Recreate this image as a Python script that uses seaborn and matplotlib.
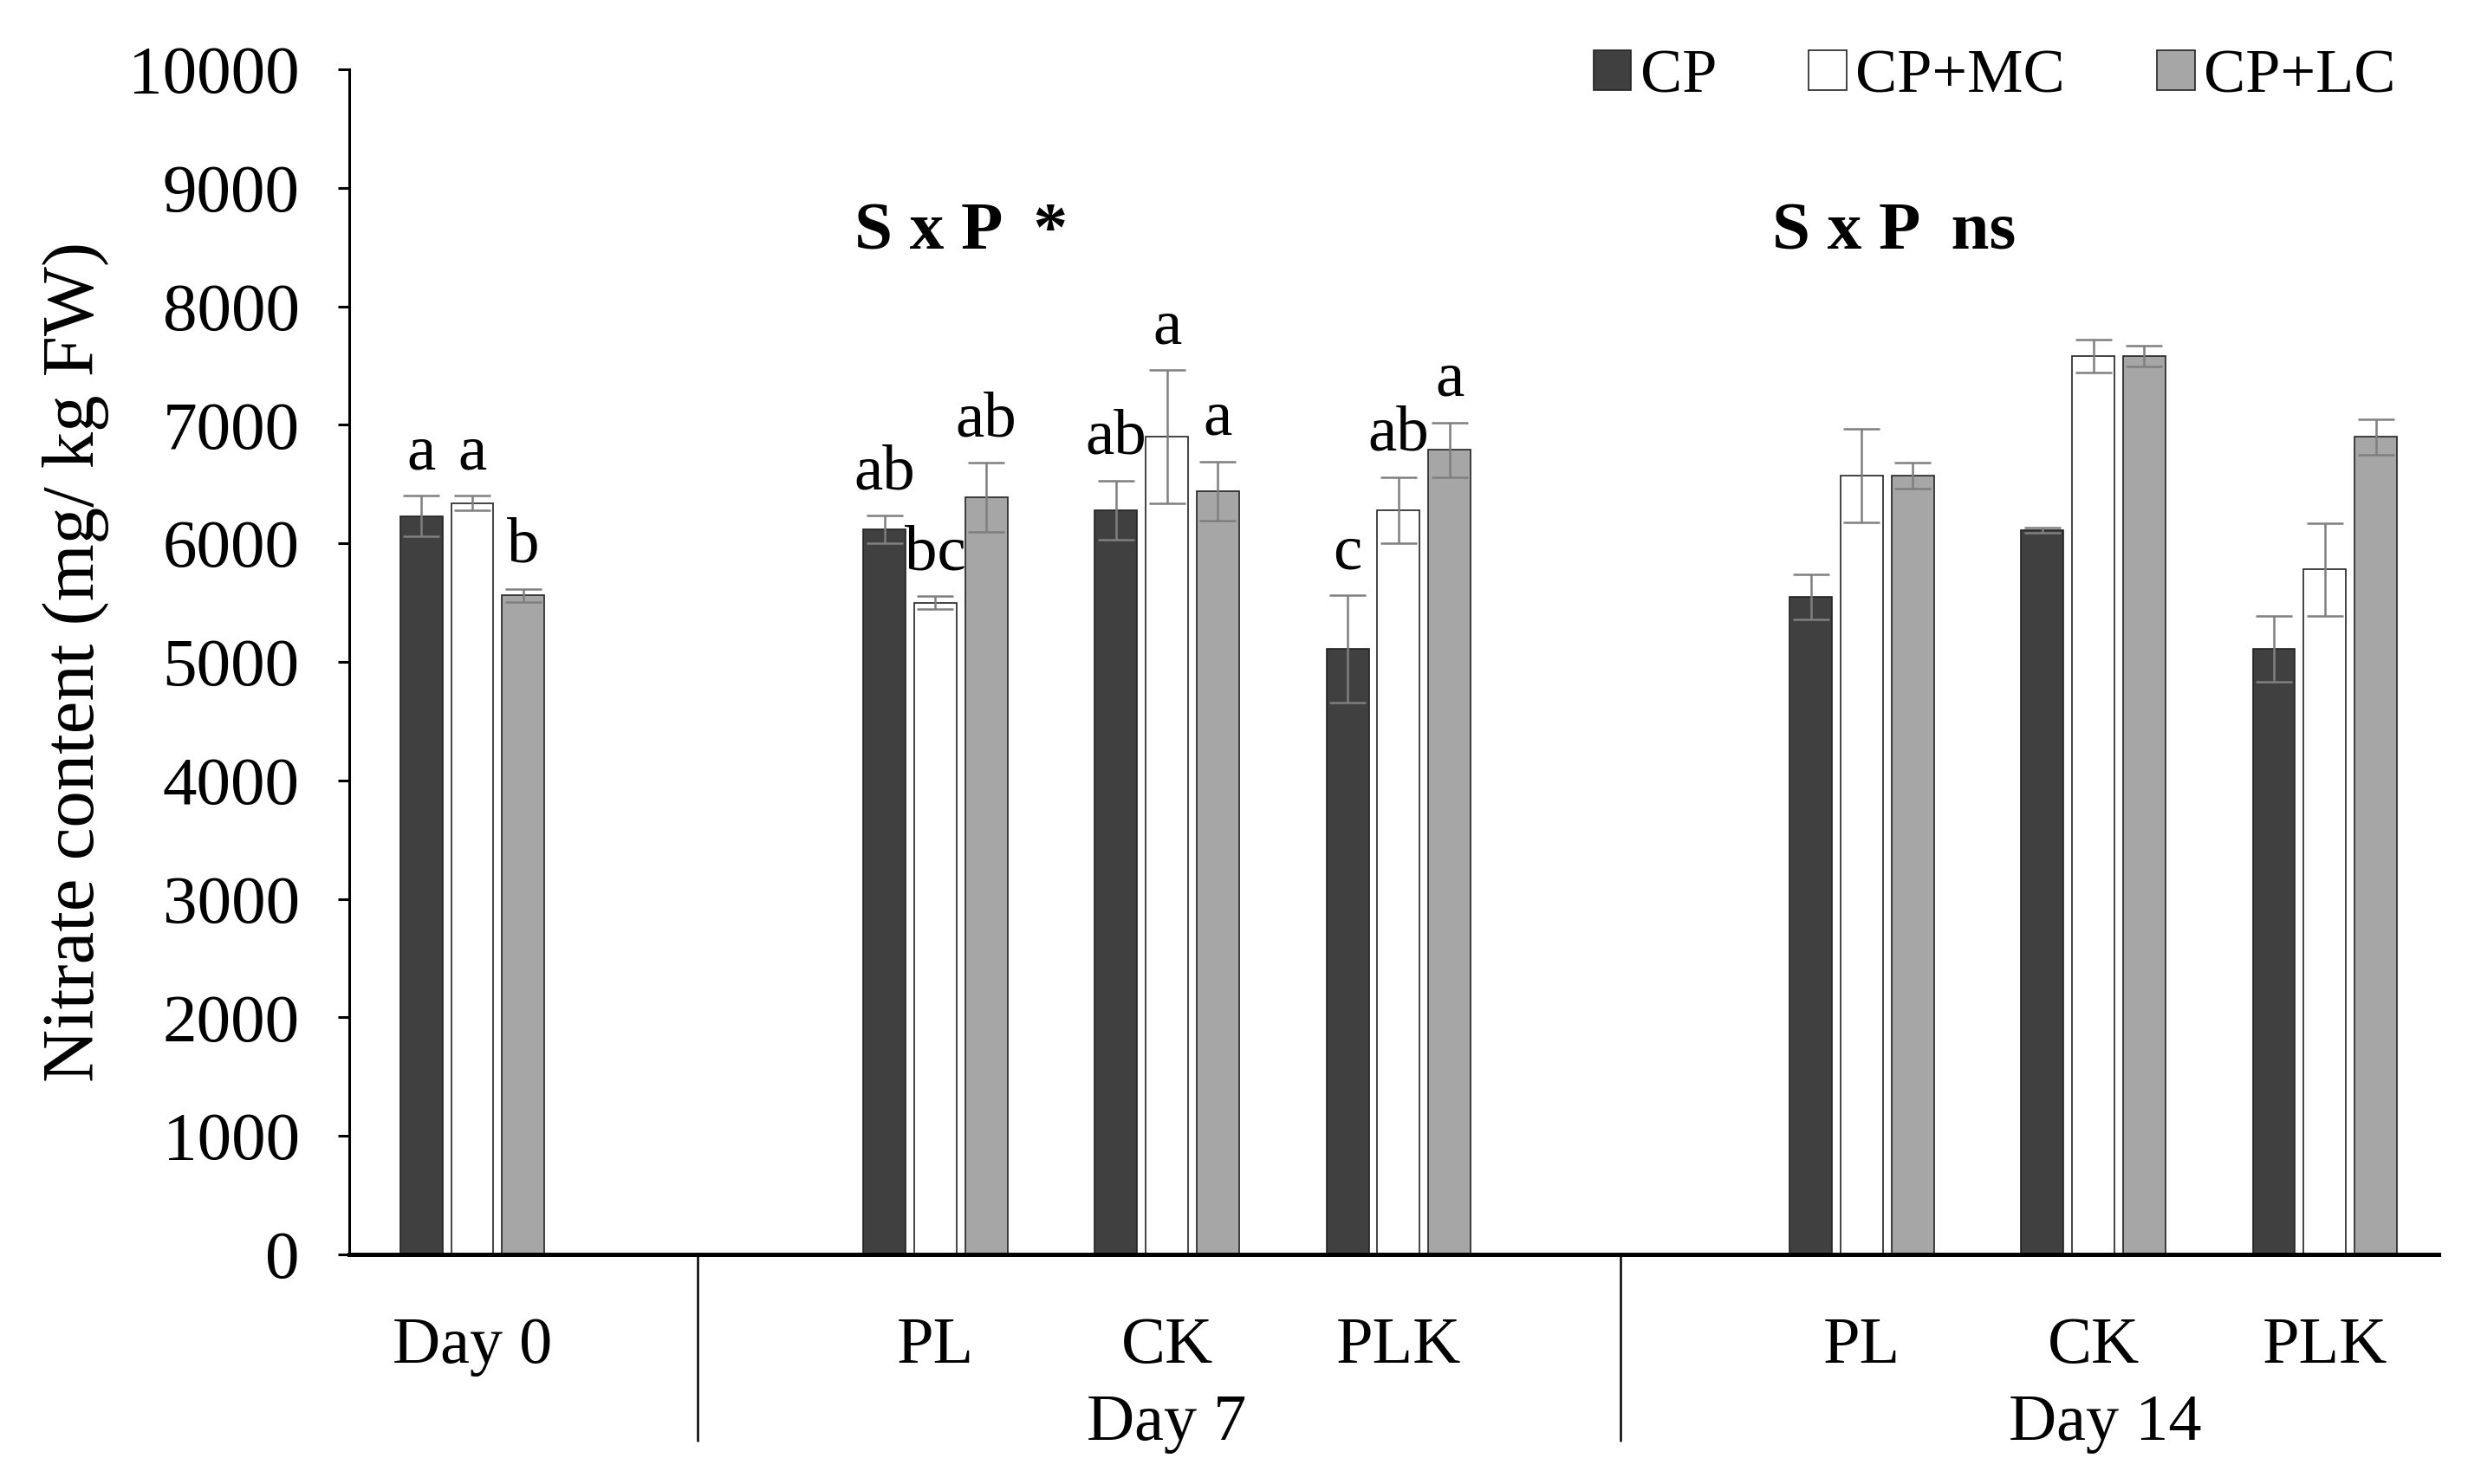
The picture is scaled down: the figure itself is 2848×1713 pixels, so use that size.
import pandas as pd
import matplotlib.pyplot as plt
import matplotlib.transforms as mtransforms
import seaborn as sns

# ---------------- data ----------------
slot_keys = ["D0", "gap1", "D7_PL", "D7_CK", "D7_PLK", "gap2", "D14_PL", "D14_CK", "D14_PLK"]
slot_labels = ["Day 0", "", "PL", "CK", "PLK", "", "PL", "CK", "PLK"]
data_keys = ["D0", "D7_PL", "D7_CK", "D7_PLK", "D14_PL", "D14_CK", "D14_PLK"]
treatments = ["CP", "CP+MC", "CP+LC"]

cp_mean = [6230, 6120, 6280, 5110, 5550, 6110, 5110]
cp_sd = [170, 115, 250, 450, 190, 20, 280]
mc_mean = [6340, 5500, 6900, 6280, 6570, 7580, 5780]
mc_sd = [60, 55, 560, 280, 395, 140, 390]
lc_mean = [5560, 6390, 6440, 6790, 6570, 7580, 6900]
lc_sd = [55, 290, 250, 230, 110, 90, 150]

cp_letters = ["a", "ab", "ab", "c", "", "", ""]
mc_letters = ["a", "bc", "a", "ab", "", "", ""]
lc_letters = ["b", "ab", "a", "a", "", "", ""]

groups = ["Day 7", "Day 14"]
group_pos = [3, 7.05]
separators = [0.975, 4.96]
interaction = ["S x P  *", "S x P  ns"]
interaction_pos = [2.11, 6.14]

colores = {"CP": "#404040", "CP+MC": "#ffffff", "CP+LC": "#a6a6a6"}

# ---------------- tabla ----------------
filas = []
for trat, medias, sds, letras in [("CP", cp_mean, cp_sd, cp_letters),
                                  ("CP+MC", mc_mean, mc_sd, mc_letters),
                                  ("CP+LC", lc_mean, lc_sd, lc_letters)]:
    for k, m, s, l in zip(data_keys, medias, sds, letras):
        filas.append({"slot": k, "trat": trat, "valor": m, "sd": s, "letra": l})
df = pd.DataFrame(filas)

# ---------------- figura ----------------
sns.set_style("white")
plt.rcParams['font.family'] = ['Liberation Serif', 'DejaVu Serif']
plt.rcParams['text.color'] = 'black'
plt.rcParams['axes.labelcolor'] = 'black'
plt.rcParams['xtick.color'] = 'black'
plt.rcParams['ytick.color'] = 'black'
plt.rcParams['axes.edgecolor'] = 'black'

fig = plt.figure(figsize=(14.24, 8.565), dpi=200)
ax = fig.add_axes([0.1416, 0.1547, 0.8464, 0.7986])

sns.barplot(data=df, x="slot", y="valor", hue="trat", order=slot_keys,
            hue_order=treatments, palette=colores, width=0.66, gap=0.17,
            errorbar=None, edgecolor="#222222", linewidth=0.6, ax=ax)

# barras de error y letras
lookup = {(r.trat, slot_keys.index(r.slot)): r for r in df.itertuples()}
for trat, cont in zip(treatments, ax.containers):
    for bar in cont:
        xc = bar.get_x() + bar.get_width() / 2
        fila = lookup.get((trat, int(round(xc))))
        if fila is None:
            continue
        ax.errorbar(xc, fila.valor, yerr=fila.sd, fmt="none", ecolor="#7f7f7f",
                    elinewidth=0.9, capsize=7.5, capthick=0.9, zorder=3)
        if fila.letra:
            ax.text(xc, fila.valor + fila.sd + 110, fila.letra, ha="center",
                    va="bottom", fontsize=27)

ax.set_ylim(0, 10000)
ax.set_xlim(-0.53, 8.49)
ax.set_yticks(range(0, 10001, 1000))
ax.tick_params(axis="y", labelsize=28.5, direction="out", length=4.7, width=1.1,
               left=True, pad=16)
ax.set_xticks(range(len(slot_keys)))
ax.set_xticklabels(slot_labels, fontsize=27.5)
ax.tick_params(axis="x", length=0, pad=26)
ax.set_xlabel("")
ax.set_ylabel("Nitrate content (mg/ kg FW)", fontsize=30.5, labelpad=8)

sns.despine(ax=ax, top=True, right=True)
ax.spines["left"].set_linewidth(1.1)
ax.spines["bottom"].set_linewidth(1.8)

trans = mtransforms.blended_transform_factory(ax.transData, ax.transAxes)
for xs in separators:
    ax.plot([xs, xs], [0, -0.157], color="black", lw=0.9, transform=trans, clip_on=False)
for g, xp in zip(groups, group_pos):
    ax.text(xp, -0.143, g, transform=trans, ha="center", va="center", fontsize=27.5)
for t, xp in zip(interaction, interaction_pos):
    ax.text(xp, 8620, t, ha="center", va="center", fontsize=28.5, fontweight="bold")

ax.legend(ncol=3, frameon=False, fontsize=26, loc="center right",
          bbox_to_anchor=(0.981, 0.948), bbox_transform=fig.transFigure,
          handlelength=0.6, handleheight=0.6, handletextpad=0.15,
          columnspacing=1.47, borderaxespad=0)

fig.savefig("out.png", dpi=200)
